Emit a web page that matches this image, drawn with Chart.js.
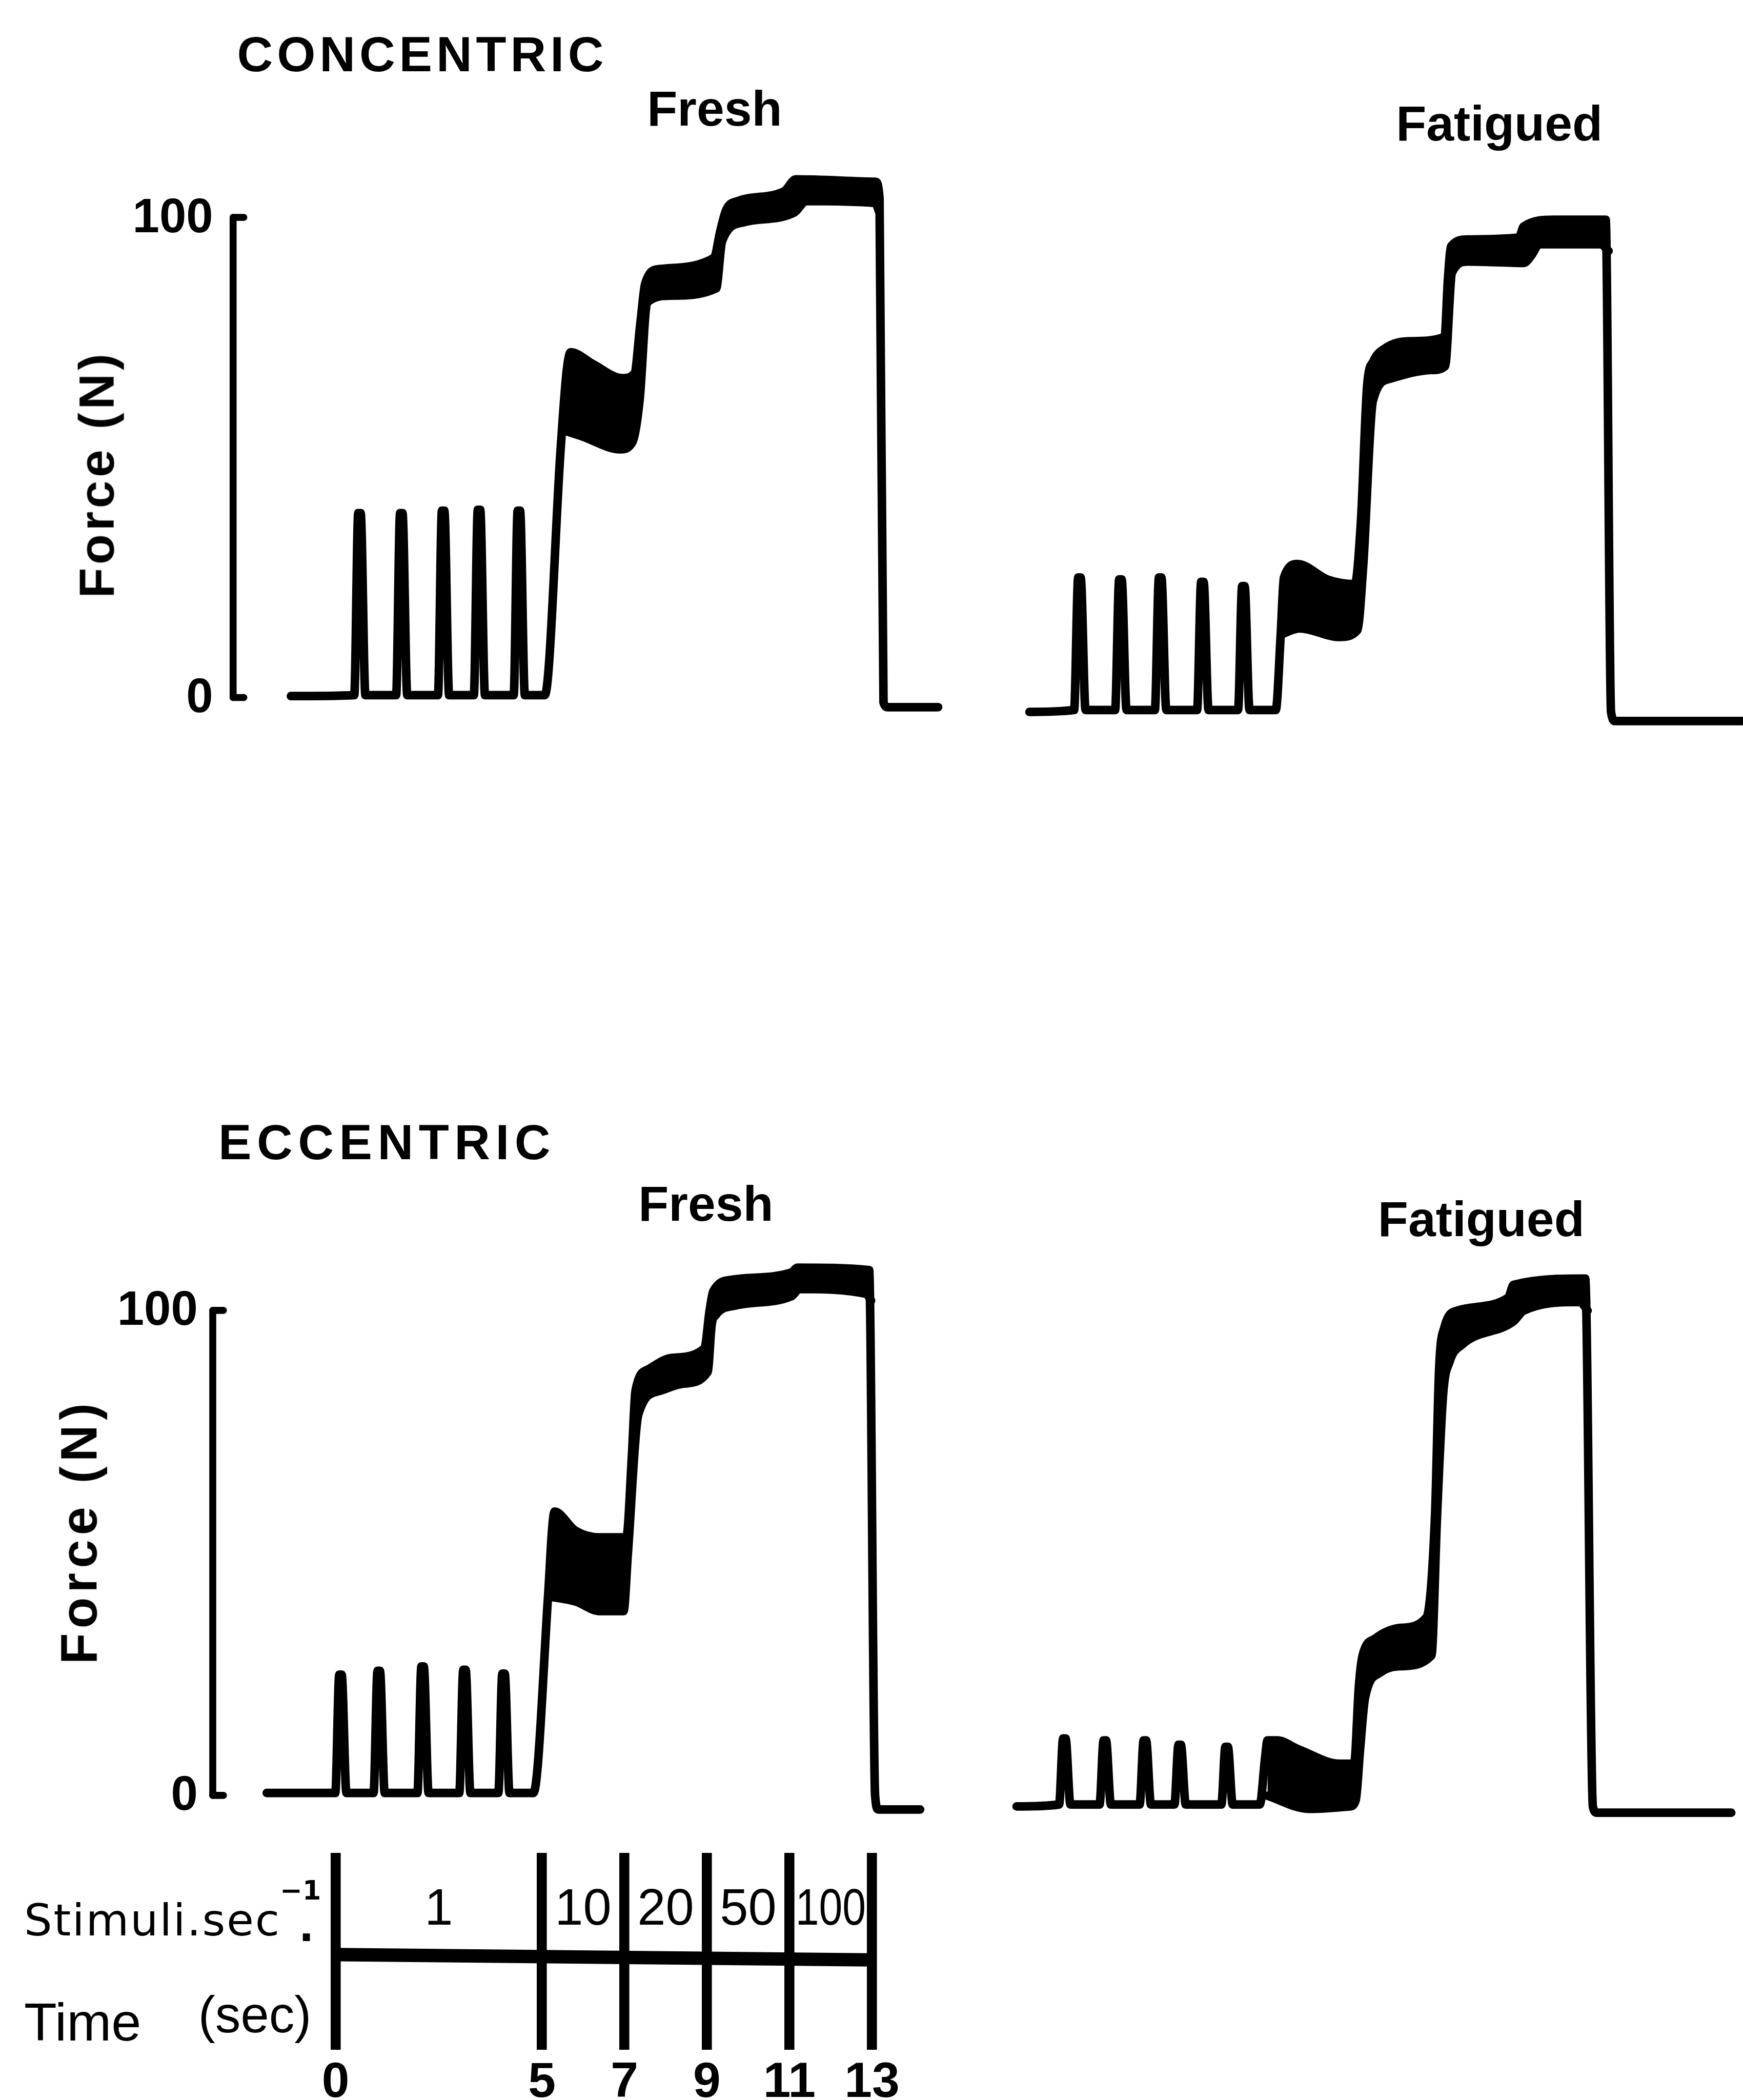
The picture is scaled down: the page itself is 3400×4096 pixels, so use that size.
<!DOCTYPE html>
<html><head><meta charset="utf-8">
<script src="https://cdn.jsdelivr.net/npm/chart.js@4.4.1/dist/chart.umd.min.js"></script>
<style>
html,body{margin:0;padding:0;background:#fff;overflow:hidden;}
#root{position:relative;width:3400px;height:4096px;background:#fff;overflow:hidden;}
#root canvas{position:absolute;}
.t{position:absolute;white-space:nowrap;color:#000;line-height:1;font-family:"Liberation Sans",Arial,sans-serif;}
</style></head><body><div id="root"></div>
<script>
// ---------------- DATA (time in s, force in N) ----------------
const forceTicks = [0, 100];
const timeTicks = [0, 5, 7, 9, 11, 13];
const stimRates = ['1', '10', '20', '50', '100'];
const timelineBar = [[0, 0.483], [13, 0.456]];

// Concentric, fresh
const concFreshUpper = [
  [-1.77,0.3],[-0.18,0.5],[-0.08,38.4],[-0.02,38.4],[0.1,0.5],[0.87,0.5],[0.97,38.4],[1.03,38.4],[1.15,0.5],
  [1.92,0.5],[2.02,38.9],[2.08,38.9],[2.2,0.5],[2.82,0.5],[2.92,39.1],[2.98,39.1],[3.1,0.5],
  [3.82,0.5],[3.92,38.9],[3.98,38.9],[4.1,0.5],
  [4.6,0.5],[5.0,52],[5.15,68],[5.25,71.9],[5.8,69.5],[6.55,66.5],[6.85,67.5],[7.0,78],[7.12,86.2],
  [7.45,89.2],[8.85,91.6],[9.0,97],[9.15,101.5],[9.45,103.4],[10.6,105.4],[10.9,107.9],[12.9,107.4],
  [13.0,104],[13.1,-1],[13.2,-2],[14.47,-2]
];
const concFreshLower = [
  [5.05,55.7],[5.5,54.5],[6.5,51.7],[6.8,53.2],[6.98,62],[7.17,82.3],[7.77,83.7],[8.9,85.2],
  [9.05,95.1],[9.6,99.0],[10.86,101],[11.16,103.4],[12.89,103],[13.0,101]
];

// Concentric, fatigued
const concFatUpper = [
  [-1.09,0],[0.0,0.4],[0.1,28],[0.16,28],[0.28,0.4],[1.0,0.4],[1.1,27.6],[1.16,27.6],[1.28,0.4],
  [1.97,0.4],[2.07,28],[2.13,28],[2.25,0.4],[3.0,0.4],[3.1,27.1],[3.16,27.1],[3.28,0.4],
  [4.0,0.4],[4.1,26.2],[4.16,26.2],[4.28,0.4],[4.92,0.4],
  [5.04,16],[5.12,28],[5.45,30.8],[6.2,27.5],[6.85,26.6],[7.0,40],[7.15,68],[7.3,73],[7.6,75.8],
  [8.2,77.2],[9.04,78.1],[9.12,90],[9.2,97],[9.6,98.4],[10.85,98.8],[10.97,101.1],[11.7,102.5],
  [12.97,102.5],[13.1,0],[13.2,-1.9],[16.3,-1.9]
];
const concFatLower = [
  [5.04,16.1],[5.5,17.4],[6.48,15.6],[6.91,17.0],[7.05,30],[7.29,64.8],[7.72,69.4],[8.72,71.2],
  [9.05,72],[9.22,91.5],[9.6,93.8],[10.97,93.5],[11.16,95.1],[11.35,97.4],[12.85,97.4],[13.04,96.0]
];

// Eccentric, fresh
const eccFreshUpper = [
  [-2.06,0.5],[-0.34,0.5],[-0.24,24.9],[-0.18,24.9],[-0.06,0.5],[0.62,0.5],[0.72,25.7],[0.78,25.7],[0.9,0.5],
  [1.72,0.5],[1.82,26.6],[1.88,26.6],[2.0,0.5],[2.77,0.5],[2.87,25.9],[2.93,25.9],[3.05,0.5],
  [3.75,0.5],[3.85,25.1],[3.91,25.1],[4.03,0.5],
  [4.63,0.5],[5.0,41.5],[5.1,55],[5.16,58.5],[5.68,54.6],[6.29,53.2],[6.96,53.2],[7.1,70],
  [7.19,83.4],[7.5,87.8],[8.1,90.2],[8.92,92.2],[9.05,100],[9.14,103.9],[9.6,106.3],[11.1,107.8],
  [11.25,108.8],[13.05,108.3],[13.2,0],[13.28,-2.9],[14.33,-2.9]
];
const eccFreshLower = [
  [5.03,41.0],[5.68,40],[6.29,38.0],[6.89,38],[7.0,50],[7.26,78.5],[7.8,83.4],[8.4,84.9],[9.0,87.3],
  [9.1,97],[9.2,99.0],[9.7,101.0],[11.1,102.9],[11.3,104.4],[12.98,103.4],[13.1,102]
];

// Eccentric, fatigued
const eccFatUpper = [
  [-1.14,0],[-0.09,0.4],[0.01,14.0],[0.07,14.0],[0.19,0.4],[0.91,0.4],[1.01,13.6],[1.07,13.6],[1.19,0.4],
  [1.9,0.4],[2.0,13.6],[2.06,13.6],[2.18,0.4],[2.76,0.4],[2.86,12.7],[2.92,12.7],[3.04,0.4],
  [3.92,0.4],[4.02,12.3],[4.08,12.3],[4.2,0.4],[4.87,0.4],
  [5.0,10],[5.06,13.6],[5.3,13.6],[5.82,11.8],[6.84,8.8],[7.2,8.8],[7.32,25],[7.41,31.1],[7.72,34.6],
  [8.35,36.8],[8.99,39.0],[9.2,60],[9.3,90],[9.43,98.7],[9.75,102.2],[11.01,104.9],[11.14,107.5],
  [12.91,108.8],[13.1,0],[13.2,-1.3],[16.52,-1.3]
];
const eccFatLower = [
  [5.06,2.2],[6.08,-0.5],[7.09,0],[7.24,1.3],[7.35,12],[7.47,22.4],[7.85,27.6],[8.35,28.9],[9.11,31.1],
  [9.25,60],[9.4,85],[9.56,91.7],[9.87,95.2],[11.14,100.0],[11.39,102.2],[12.78,104.0],[12.97,102.2]
];

// ---------------- LAYOUT ----------------
const K = 3400 / 1301;
const S = v => v * K;
const root = document.getElementById('root');
Chart.defaults.font.family = '"Liberation Sans", Arial, sans-serif';
Chart.defaults.color = '#000';

function addText(str, left, baseline, size, opts = {}) {
  const d = document.createElement('div');
  d.className = 't';
  d.textContent = str;
  d.style.left = S(left) + 'px';
  d.style.top = S(baseline - 0.846 * size) + 'px';
  d.style.fontSize = S(size) + 'px';
  if (opts.bold) d.style.fontWeight = 'bold';
  if (opts.family) d.style.fontFamily = opts.family;
  if (opts.ls) d.style.letterSpacing = S(opts.ls) + 'px';
  root.appendChild(d);
  return d;
}
function addRotated(str, cx, cy, size, ls) {
  const d = document.createElement('div');
  d.className = 't';
  d.textContent = str;
  d.style.left = S(cx) + 'px';
  d.style.top = S(cy) + 'px';
  d.style.fontSize = S(size) + 'px';
  d.style.fontWeight = 'bold';
  d.style.letterSpacing = S(ls) + 'px';
  d.style.transform = 'translate(-50%,-50%) rotate(-90deg)';
  root.appendChild(d);
}
function addCanvas(left, top, w, h) {
  const c = document.createElement('canvas');
  c.width = Math.round(S(w)); c.height = Math.round(S(h));
  c.style.left = Math.round(S(left)) + 'px'; c.style.top = Math.round(S(top)) + 'px';
  c.style.width = c.width + 'px'; c.style.height = c.height + 'px';
  root.appendChild(c);
  return c;
}

const forceAxisPlugin = {
  id: 'forceAxis',
  afterDatasetsDraw(chart, args, opts) {
    if (!opts || !opts.show) return;
    const ctx = chart.ctx, ys = chart.scales.y;
    const ax = S(opts.x);
    const top = ys.getPixelForValue(forceTicks[forceTicks.length - 1]);
    const bot = ys.getPixelForValue(forceTicks[0]);
    ctx.save();
    ctx.strokeStyle = '#000'; ctx.fillStyle = '#000';
    ctx.lineWidth = S(5.2); ctx.lineCap = 'round';
    ctx.beginPath(); ctx.moveTo(ax, top); ctx.lineTo(ax, bot); ctx.stroke();
    ctx.font = 'bold ' + S(36) + 'px "Liberation Sans", Arial, sans-serif';
    ctx.textAlign = 'right'; ctx.textBaseline = 'middle';
    forceTicks.forEach(v => {
      const py = ys.getPixelForValue(v);
      ctx.beginPath(); ctx.moveTo(ax, py); ctx.lineTo(ax + S(8), py); ctx.stroke();
      ctx.fillText(String(v), S(opts.label), py + S(1));
    });
    ctx.restore();
  }
};

function panel(upper, lower, box, xr, yr, axis) {
  const c = addCanvas(box[0], box[1], box[2], box[3]);
  const toXY = arr => arr.map(p => ({x: p[0], y: p[1]}));
  const common = {
    borderColor: '#000', backgroundColor: '#000', borderWidth: S(6.4), pointRadius: 0,
    cubicInterpolationMode: 'monotone', borderCapStyle: 'round', borderJoinStyle: 'round'
  };
  return new Chart(c, {
    type: 'line',
    data: { datasets: [
      Object.assign({ data: toXY(upper), fill: false }, common),
      Object.assign({ data: toXY(lower), fill: '-1' }, common)
    ]},
    options: {
      responsive: false, animation: false, devicePixelRatio: 1,
      layout: { padding: 0 },
      plugins: { legend: { display: false }, tooltip: { enabled: false },
        forceAxis: axis ? { show: true, x: axis.x, label: axis.label } : { show: false } },
      scales: {
        x: { type: 'linear', display: false, min: xr[0], max: xr[1] },
        y: { type: 'linear', display: false, min: yr[0], max: yr[1] }
      }
    },
    plugins: [forceAxisPlugin]
  });
}

panel(concFreshUpper, concFreshLower, [0, 100, 720, 460], [-9.07, 15.14], [-10.94, 117.4], {x: 174, label: 159});
panel(concFatUpper, concFatLower, [720, 100, 581, 460], [-2.667, 16.32], [-7.95, 120.4], null);
panel(eccFreshUpper, eccFreshLower, [0, 920, 720, 445], [-8.75, 15.45], [-6.88, 116.05], {x: 158.8, label: 147.6});
panel(eccFatUpper, eccFatLower, [720, 920, 581, 445], [-2.42, 16.81], [-4.61, 118.3], null);

// Timeline (stimulation rates / time)
const rateLabelsPlugin = {
  id: 'rateLabels',
  afterDatasetsDraw(chart) {
    const ctx = chart.ctx, xs = chart.scales.x;
    ctx.save();
    ctx.fillStyle = '#000';
    ctx.font = S(38) + 'px "Liberation Sans", Arial, sans-serif';
    ctx.textAlign = 'center'; ctx.textBaseline = 'middle';
    stimRates.forEach((r, i) => {
      const a = xs.getPixelForValue(timeTicks[i]), b = xs.getPixelForValue(timeTicks[i + 1]);
      ctx.fillText(r, (a + b) / 2, S(56), (b - a) - S(9));
    });
    ctx.restore();
  }
};
(function () {
  const c = addCanvas(0, 1370, 700, 198);
  new Chart(c, {
    type: 'line',
    data: { datasets: [{ data: timelineBar.map(p => ({x: p[0], y: p[1]})), borderColor: '#000',
      borderWidth: S(10), pointRadius: 0, fill: false, borderCapStyle: 'butt' }] },
    options: {
      responsive: false, animation: false, devicePixelRatio: 1,
      layout: { padding: { left: S(250.5), right: S(49), top: S(13), bottom: 0 } },
      plugins: { legend: { display: false }, tooltip: { enabled: false } },
      scales: {
        x: { type: 'linear', min: 0, max: 13,
          afterBuildTicks: a => { a.ticks = timeTicks.map(v => ({ value: v })); },
          afterFit: s => { s.height = S(38); s.paddingLeft = 0; s.paddingRight = 0; },
          grid: { color: '#000', lineWidth: S(7.5), drawTicks: false, drawOnChartArea: true },
          border: { display: false },
          ticks: { color: '#000', padding: S(3), autoSkip: false, maxRotation: 0,
            font: { family: '"Liberation Sans", Arial, sans-serif', weight: 'bold', size: S(37) } } },
        y: { display: false, min: 0, max: 1 }
      }
    },
    plugins: [rateLabelsPlugin]
  });
})();

// ---------------- TEXT ----------------
addText('CONCENTRIC', 177, 53, 37, { bold: true, ls: 3 });
addText('Fresh', 483, 93.6, 37, { bold: true });
addText('Fatigued', 1042, 104.8, 37, { bold: true });
addText('ECCENTRIC', 163, 865, 37, { bold: true, ls: 4 });
addText('Fresh', 476.5, 911, 37, { bold: true });
addText('Fatigued', 1028.5, 922.4, 37, { bold: true });
addRotated('Force (N)', 72, 354, 37, 2.5);
addRotated('Force (N)', 59, 1143, 38, 3.5);
addText('Stimuli.sec', 18, 1444.4, 33, { family: '"DejaVu Sans", sans-serif', ls: 1 });
addText('\u22121', 209, 1417.7, 20, { family: '"DejaVu Sans", sans-serif', bold: true });
addText('.', 223, 1449, 30, { family: '"DejaVu Sans", sans-serif', bold: true });
addText('Time', 18, 1523, 40);
addText('(sec)', 148, 1517, 38);
</script></body></html>
